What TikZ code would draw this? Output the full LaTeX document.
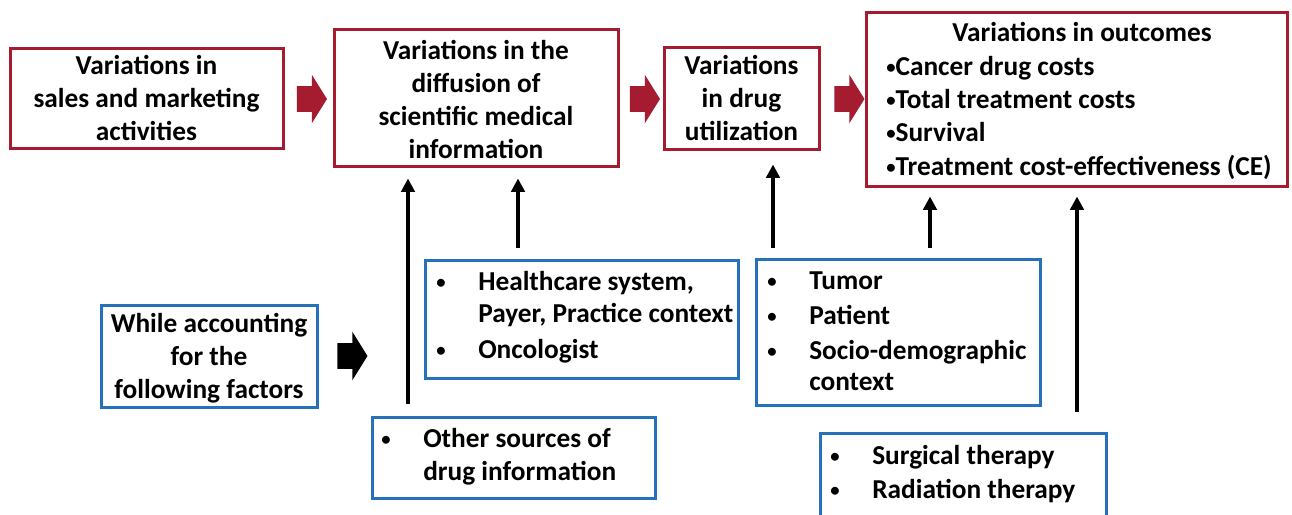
\documentclass[tikz,border=0pt]{standalone}
\usepackage{fontspec}
\setmainfont{Carlito}
\usetikzlibrary{shapes.arrows,arrows.meta}
\definecolor{boxred}{RGB}{165,28,48}
\definecolor{boxblue}{RGB}{38,114,186}
\newcommand\lblfont{\bfseries\fontsize{20.5}{24.75}\selectfont}
% small round bullet used in the lists
\newcommand\smallbul{\raisebox{1.2pt}{\fontsize{14}{14}\selectfont •}}
\newcommand\bul{\makebox[31.5pt][l]{\smallbul}}
\tikzset{
  redbox/.style={draw=boxred, line width=2.25pt, inner sep=0pt, align=center, font=\lblfont},
  bluebox/.style={draw=boxblue, line width=2.25pt, inner sep=0pt, align=center, font=\lblfont},
  txtline/.style={inner sep=0pt, anchor=base west, font=\lblfont},
  txtcenter/.style={inner sep=0pt, anchor=base, font=\lblfont},
  flow/.style={single arrow, fill=#1, draw=none, inner xsep=0pt, inner ysep=9.375pt,
    minimum height=22.5pt, single arrow head extend=8.625pt, single arrow tip angle=116},
  uparrow/.style={-{Triangle[width=10pt,length=10pt]}, line width=3pt},
}
\begin{document}
\begin{tikzpicture}[x=0.75pt,y=-0.75pt]
\useasboundingbox (0,0) rectangle (1292,514);

% main chain (top row)
\node[redbox, minimum width=204.75pt, minimum height=75pt] (A) at (146.5,98)
  {Variations in\\sales and marketing\\activities};
\node[redbox, minimum width=213pt, minimum height=102.75pt] (B) at (476,97.5) {};
\node[redbox, draw=none, minimum width=0pt, minimum height=0pt] (Btext) at (476,99.5)
  {Variations in the\\diffusion of\\scientific medical\\information};
\node[redbox, minimum width=116.25pt, minimum height=76.5pt] (C) at (741.5,98)
  {Variations\\in drug\\utilization};
\node[redbox, minimum width=315.75pt, minimum height=130.5pt] (D) at (1076.5,99) {};
\node[txtcenter] (dT) at (1082,41) {Variations in outcomes};
\node[txtline] (d1) at (886,75) {\smallbul Cancer drug costs};
\node[txtline] (d2) at (886,108) {\smallbul Total treatment costs};
\node[txtline] (d3) at (886,141) {\smallbul Survival};
\node[txtline] (d4) at (886,175) {\smallbul Treatment cost-effectiveness (CE)};

% block arrows between the stages
\node[flow=boxred] (ab) at (308,99) {};
\node[flow=boxred] (bc) at (641,99) {};
\node[flow=boxred] (cd) at (845.5,99) {};

% factors
\node[bluebox, minimum width=162pt, minimum height=76.5pt] (E) at (209,356) {};
\node[bluebox, draw=none, minimum width=0pt, minimum height=0pt] (Etext) at (209,358)
  {While accounting\\for the\\following factors};
\node[flow=black] (ef) at (348.5,356) {};

\node[bluebox, minimum width=234.75pt, minimum height=88.5pt] (F) at (581.5,319) {};
\node[txtline] (f1) at (436,290) {\bul Healthcare system,};
\node[txtline] (f2) at (478,322) {Payer, Practice context};
\node[txtline] (f3) at (436,358) {\bul Oncologist};

\node[bluebox, minimum width=213pt, minimum height=109.5pt] (G) at (898,332) {};
\node[txtline] (g1) at (767,289) {\bul Tumor};
\node[txtline] (g2) at (767,324) {\bul Patient};
\node[txtline] (g3) at (767,359) {\bul Socio-demographic};
\node[txtline] (g4) at (809,390) {context};

\node[bluebox, minimum width=212.25pt, minimum height=60.75pt] (H) at (513.5,457.5) {};
\node[txtline] (h1) at (381,447) {\bul Other sources of};
\node[txtline] (h2) at (423,480) {drug information};

\node[bluebox, minimum width=214.5pt, minimum height=76.5pt] (I) at (963,484) {};
\node[txtline] (i1) at (830,464) {\bul Surgical therapy};
\node[txtline] (i2) at (830,498) {\bul Radiation therapy};

% influence arrows
\coordinate (x1) at (408,0);
\coordinate (x2) at (518,0);
\coordinate (x3) at (773,0);
\coordinate (x4) at (930,0);
\coordinate (x5) at (1077,0);
\draw[uparrow, shorten <=9pt, shorten >=8.25pt] (H.north -| x1) -- (B.south -| x1);
\draw[uparrow, shorten <=8.25pt, shorten >=8.25pt] (F.north -| x2) -- (B.south -| x2);
\draw[uparrow, shorten <=7.5pt, shorten >=10.5pt] (G.north -| x3) -- (C.south -| x3);
\draw[uparrow, shorten <=7.5pt, shorten >=6.75pt] (G.north -| x4) -- (D.south -| x4);
\draw[uparrow, shorten <=15pt, shorten >=6.75pt] (I.north -| x5) -- (D.south -| x5);
\end{tikzpicture}
\end{document}
